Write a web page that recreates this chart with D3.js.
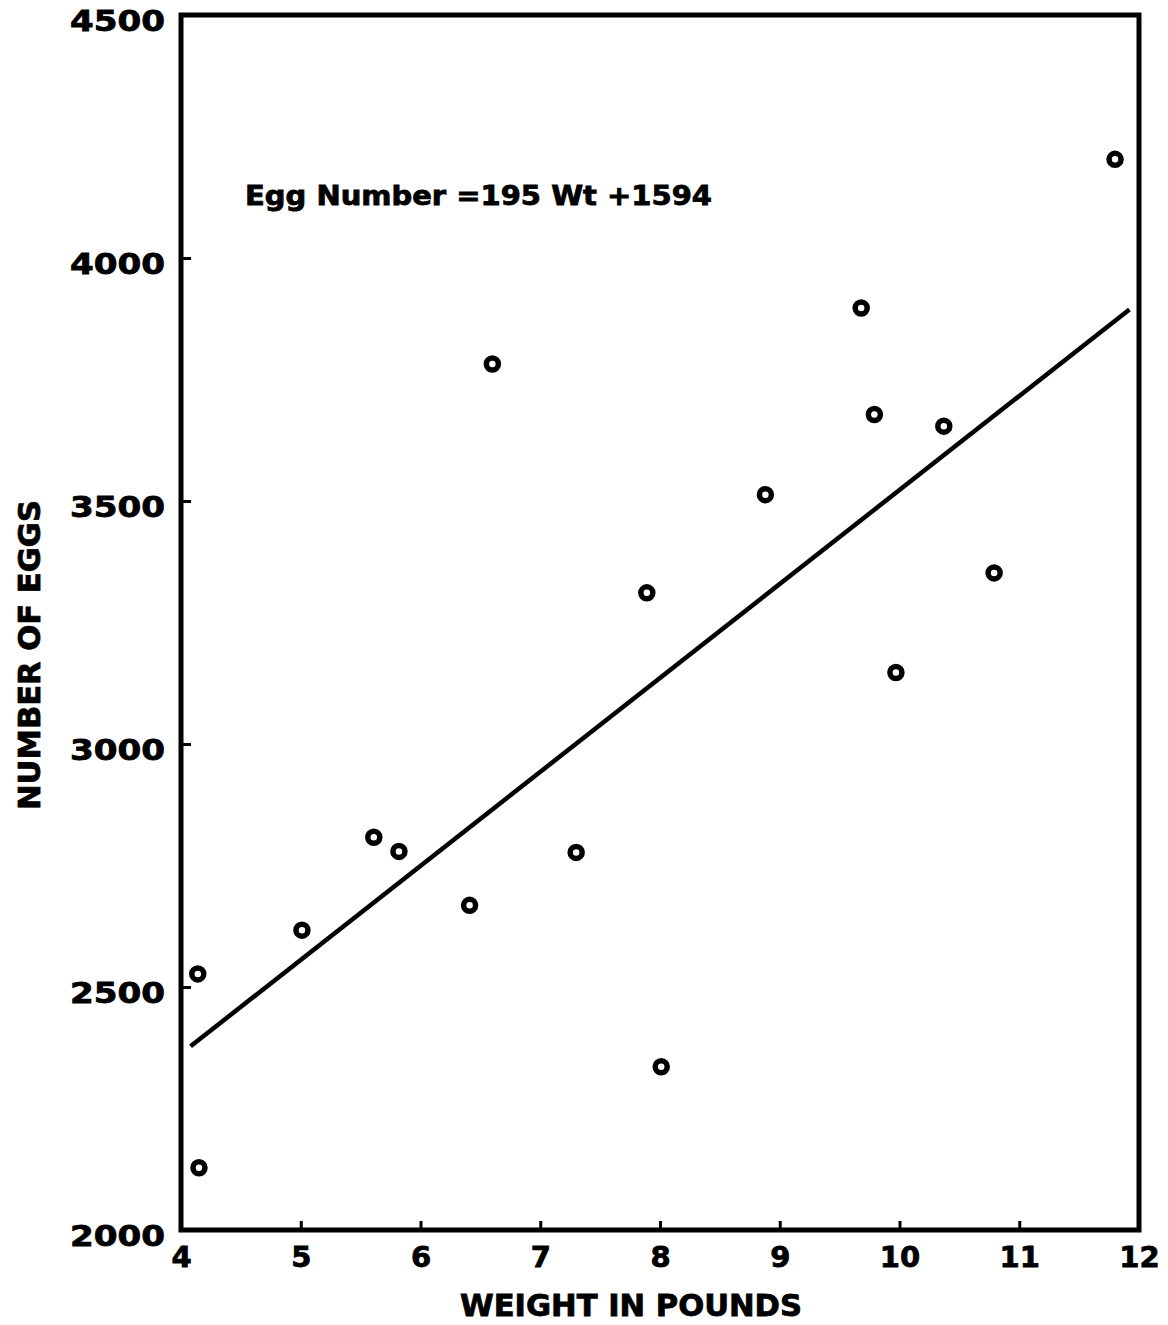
<!DOCTYPE html>
<html>
<head>
<meta charset="utf-8">
<script src="https://cdn.jsdelivr.net/npm/d3@7"></script>
<style>
  body { margin: 0; background: #fff; }
  svg text { font-family: "DejaVu Sans", sans-serif; font-weight: bold; fill: #000; stroke: #000; }
</style>
</head>
<body>
<div id="chart"></div>
<script>
// values
const weights = [4.14, 4.15, 5.01, 5.61, 5.82, 6.41, 6.60, 7.30, 7.89, 8.01, 8.88, 9.68, 9.79, 9.97, 10.37, 10.79, 11.80]
const eggs = [2527, 2128, 2617, 2808, 2779, 2668, 3782, 2777, 3311, 2336, 3513, 3897, 3678, 3147, 3654, 3352, 4203]
const fitX = [4.08, 11.92]
const fitY = [2378, 3894]
const xTicks = [4, 5, 6, 7, 8, 9, 10, 11, 12]
const yTicks = [2000, 2500, 3000, 3500, 4000, 4500]
const equation = "Egg Number =195 Wt +1594"

const width = 1168
const height = 1325

const xScale = d3.scaleLinear()
.domain([4, 12])
.range([181, 1139])

const yScale = d3.scaleLinear()
.domain([2000, 4500])
.range([1230, 15])

const svg = d3.select("#chart")
.append("svg")
.attr("width", width)
.attr("height", height)

// frame
svg.append("rect")
.attr("x", xScale(4))
.attr("y", yScale(4500))
.attr("width", xScale(12) - xScale(4))
.attr("height", yScale(2000) - yScale(4500))
.attr("fill", "none")
.attr("stroke", "#000")
.attr("stroke-width", 5)

const xAxis = d3.axisBottom(xScale)
.tickValues(xTicks)
.tickSizeInner(-9)
.tickSizeOuter(0)
.tickPadding(16)
.tickFormat(d3.format("d"))

const yAxis = d3.axisLeft(yScale)
.tickValues(yTicks)
.tickSizeInner(-10)
.tickSizeOuter(0)
.tickPadding(16)
.tickFormat(d3.format("d"))

const gx = svg.append("g")
.attr("transform", `translate(0,${yScale(2000)})`)
.call(xAxis)

const gy = svg.append("g")
.attr("transform", `translate(${xScale(4)},0)`)
.call(yAxis)

gx.select(".domain").remove()
gy.select(".domain").remove()

svg.selectAll(".tick line")
.attr("stroke", "#000")
.attr("stroke-width", 3)

gx.selectAll("text")
.attr("font-size", 29)
.attr("font-family", "DejaVu Sans")
.attr("font-weight", "bold")
.attr("stroke-width", 0.8)

gy.selectAll("text")
.attr("font-size", 29)
.attr("font-family", "DejaVu Sans")
.attr("font-weight", "bold")
.attr("stroke-width", 0.8)
.attr("textLength", 95)
.attr("lengthAdjust", "spacingAndGlyphs")
.attr("dy", "0.52em")

// fitted line
svg.append("line")
.attr("x1", xScale(fitX[0]))
.attr("y1", yScale(fitY[0]))
.attr("x2", xScale(fitX[1]))
.attr("y2", yScale(fitY[1]))
.attr("stroke", "#000")
.attr("stroke-width", 4.5)

// points
svg.selectAll("circle.pt")
.data(weights)
.enter()
.append("circle")
.attr("class", "pt")
.attr("cx", (d) => xScale(d))
.attr("cy", (d, i) => yScale(eggs[i]))
.attr("r", 6)
.attr("fill", "none")
.attr("stroke", "#000")
.attr("stroke-width", 5.5)

svg.append("text")
.attr("x", 245)
.attr("y", 205)
.attr("font-size", 26)
.attr("stroke-width", 0.8)
.attr("textLength", 467)
.attr("lengthAdjust", "spacingAndGlyphs")
.text(equation)

svg.append("text")
.attr("x", 631)
.attr("y", 1316)
.attr("text-anchor", "middle")
.attr("font-size", 30)
.attr("stroke-width", 0.8)
.attr("textLength", 342)
.attr("lengthAdjust", "spacingAndGlyphs")
.text("WEIGHT  IN POUNDS")

svg.append("text")
.attr("transform", "translate(40,655) rotate(-90)")
.attr("text-anchor", "middle")
.attr("font-size", 30)
.attr("stroke-width", 0.8)
.attr("textLength", 310)
.attr("lengthAdjust", "spacingAndGlyphs")
.text("NUMBER OF  EGGS")
</script>
</body>
</html>
